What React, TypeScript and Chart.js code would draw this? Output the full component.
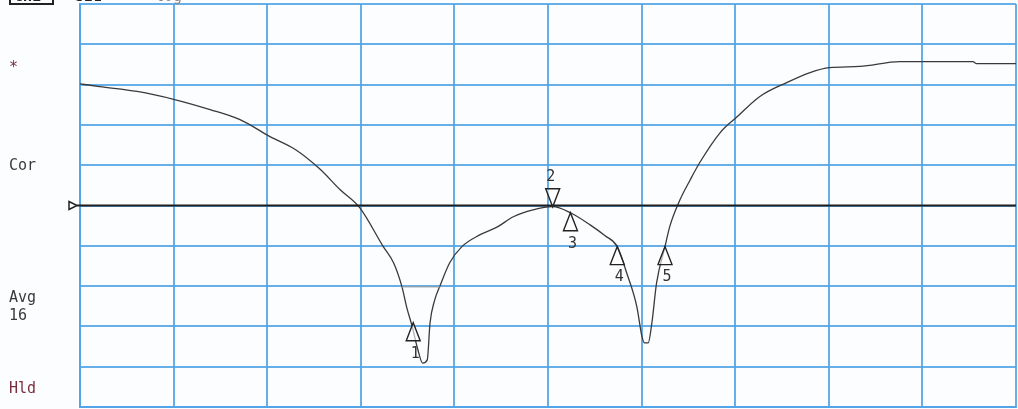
import React, { useEffect, useRef } from "react";
import { Chart, registerables } from "chart.js";

Chart.register(...registerables);

// Trace in screen divisions (x: 0..10, y: 0..10)
const traceX = [0.0, 0.21, 0.61, 1.01, 1.39, 1.71, 2.03, 2.3, 2.56, 2.78, 2.99, 3.24, 3.35, 3.44, 3.49, 3.55, 3.61, 3.66, 3.71, 3.74, 3.79, 3.85, 3.95, 4.08, 4.27, 4.46, 4.63, 4.84, 5.05, 5.24, 5.45, 5.61, 5.74, 5.84, 5.95, 6.0, 6.03, 6.07, 6.11, 6.16, 6.25, 6.3, 6.41, 6.52, 6.62, 6.84, 7.02, 7.26, 7.55, 7.8, 8.01, 8.33, 8.76, 9.05, 9.54, 9.58, 10.0];
const traceY = [8.02, 7.95, 7.83, 7.63, 7.38, 7.13, 6.71, 6.39, 5.91, 5.39, 4.94, 3.98, 3.58, 2.98, 2.48, 1.99, 1.42, 1.09, 1.17, 2.09, 2.66, 3.03, 3.58, 3.98, 4.27, 4.47, 4.72, 4.89, 4.97, 4.82, 4.52, 4.25, 3.98, 3.33, 2.48, 1.79, 1.59, 1.59, 2.09, 3.08, 3.98, 4.47, 5.14, 5.64, 6.06, 6.81, 7.2, 7.7, 8.05, 8.3, 8.42, 8.45, 8.57, 8.57, 8.57, 8.52, 8.52];

const refLevel = 5.0;
const flatSegX = [3.44, 3.85];
const flatSegY = [2.98, 2.98];

const markerNames = ["1", "2", "3", "4", "5"];
const markerX = [3.56, 5.05, 5.24, 5.74, 6.25];
const markerY = [2.09, 4.97, 4.82, 3.98, 3.98];
const markerDown = [false, true, false, false, false];

const sideLabels = ["*", "Cor", "Avg", "16", "Hld"];
const sideLabelY = [8.4, 5.98, 2.7, 2.25, 0.45];
const sideLabelColors = ["#7a2e3e", "#3a3a3a", "#3a3a3a", "#3a3a3a", "#7a2e3e"];

const headerTexts = ["CH1", "S21", "log"];

const GRID = "rgba(82,164,230,0.88)";

export default function App() {
  const ref = useRef<HTMLCanvasElement | null>(null);
  useEffect(() => {
    document.body.style.margin = "0";
    const canvas = ref.current!;
    const overlay = {
      id: "overlay",
      beforeDraw(chart: any) {
        const c = chart.ctx;
        c.save();
        c.fillStyle = "#fcfdfe";
        c.fillRect(0, 0, chart.width, chart.height);
        c.restore();
      },
      afterDraw(chart: any) {
        const c = chart.ctx;
        const xs = chart.scales.x;
        const ys = chart.scales.y;
        c.save();
        // side labels
        c.font = "15px 'DejaVu Sans Mono'";
        c.textBaseline = "middle";
        c.textAlign = "left";
        sideLabels.forEach((t, i) => {
          c.fillStyle = sideLabelColors[i];
          c.fillText(t, 9, ys.getPixelForValue(sideLabelY[i]));
        });
        // header (cut off at top)
        c.fillStyle = "#222";
        c.font = "bold 15px 'DejaVu Sans Mono'";
        c.textBaseline = "alphabetic";
        c.fillText(headerTexts[0], 14, 1);
        c.strokeStyle = "#222";
        c.lineWidth = 2;
        c.strokeRect(10, -10, 43, 14);
        c.font = "15px 'DejaVu Sans Mono'";
        c.fillText(headerTexts[1], 75, 1);
        c.fillStyle = "#888";
        c.fillText(headerTexts[2], 155, 1);
        // reference marker
        const ry = ys.getPixelForValue(refLevel);
        c.strokeStyle = "#222";
        c.lineWidth = 1.5;
        c.beginPath();
        c.moveTo(69, ry - 4);
        c.lineTo(69, ry + 4);
        c.lineTo(77, ry);
        c.closePath();
        c.fillStyle = "#fff";
        c.fill();
        c.stroke();
        c.lineWidth = 2;
        c.beginPath();
        c.moveTo(77, ry);
        c.lineTo(xs.left, ry);
        c.stroke();
        // markers
        c.font = "15px 'DejaVu Sans Mono'";
        c.textAlign = "center";
        markerNames.forEach((n, i) => {
          const px = xs.getPixelForValue(markerX[i]);
          const py = ys.getPixelForValue(markerY[i]);
          const w = 7;
          const h = 18;
          c.strokeStyle = "#222";
          c.fillStyle = "rgba(255,255,255,0.6)";
          c.lineWidth = 1.4;
          c.beginPath();
          if (markerDown[i]) {
            c.moveTo(px, py);
            c.lineTo(px - w, py - h);
            c.lineTo(px + w, py - h);
          } else {
            c.moveTo(px, py);
            c.lineTo(px - w, py + h);
            c.lineTo(px + w, py + h);
          }
          c.closePath();
          c.fill();
          c.stroke();
          c.fillStyle = "#333";
          c.textBaseline = "middle";
          if (markerDown[i]) c.fillText(n, px - 2, py - h - 12);
          else c.fillText(n, px + 2, py + h + 13);
        });
        c.restore();
      },
    };
    const chart = new Chart(canvas, {
      type: "line",
      data: {
        datasets: [
          {
            label: "ref",
            data: [
              { x: 0, y: refLevel },
              { x: 10, y: refLevel },
            ],
            borderColor: "#1e1e1e",
            borderWidth: 2,
            pointRadius: 0,
          },
          {
            label: "flat",
            data: flatSegX.map((x, i) => ({ x, y: flatSegY[i] })),
            borderColor: "#9a9a9a",
            borderWidth: 1,
            pointRadius: 0,
          },
          {
            label: "S21",
            data: traceX.map((x, i) => ({ x, y: traceY[i] })),
            borderColor: "#3a3a3a",
            borderWidth: 1.3,
            pointRadius: 0,
            cubicInterpolationMode: "monotone",
          },
        ],
      },
      options: {
        animation: false,
        responsive: false,
        layout: { padding: { left: 80, right: 2, top: 4, bottom: 2 } },
        plugins: { legend: { display: false }, tooltip: { enabled: false } },
        scales: {
          x: {
            type: "linear",
            min: 0,
            max: 10,
            ticks: { display: false, stepSize: 1 },
            grid: { color: GRID, lineWidth: 2, drawTicks: false },
            border: { color: GRID, width: 2 },
          },
          y: {
            type: "linear",
            min: 0,
            max: 10,
            ticks: { display: false, stepSize: 1 },
            grid: { color: GRID, lineWidth: 2, drawTicks: false },
            border: { color: GRID, width: 2 },
          },
        },
      },
      plugins: [overlay],
    });
    return () => chart.destroy();
  }, []);
  return <canvas ref={ref} width={1018} height={409} style={{ display: "block" }} />;
}
